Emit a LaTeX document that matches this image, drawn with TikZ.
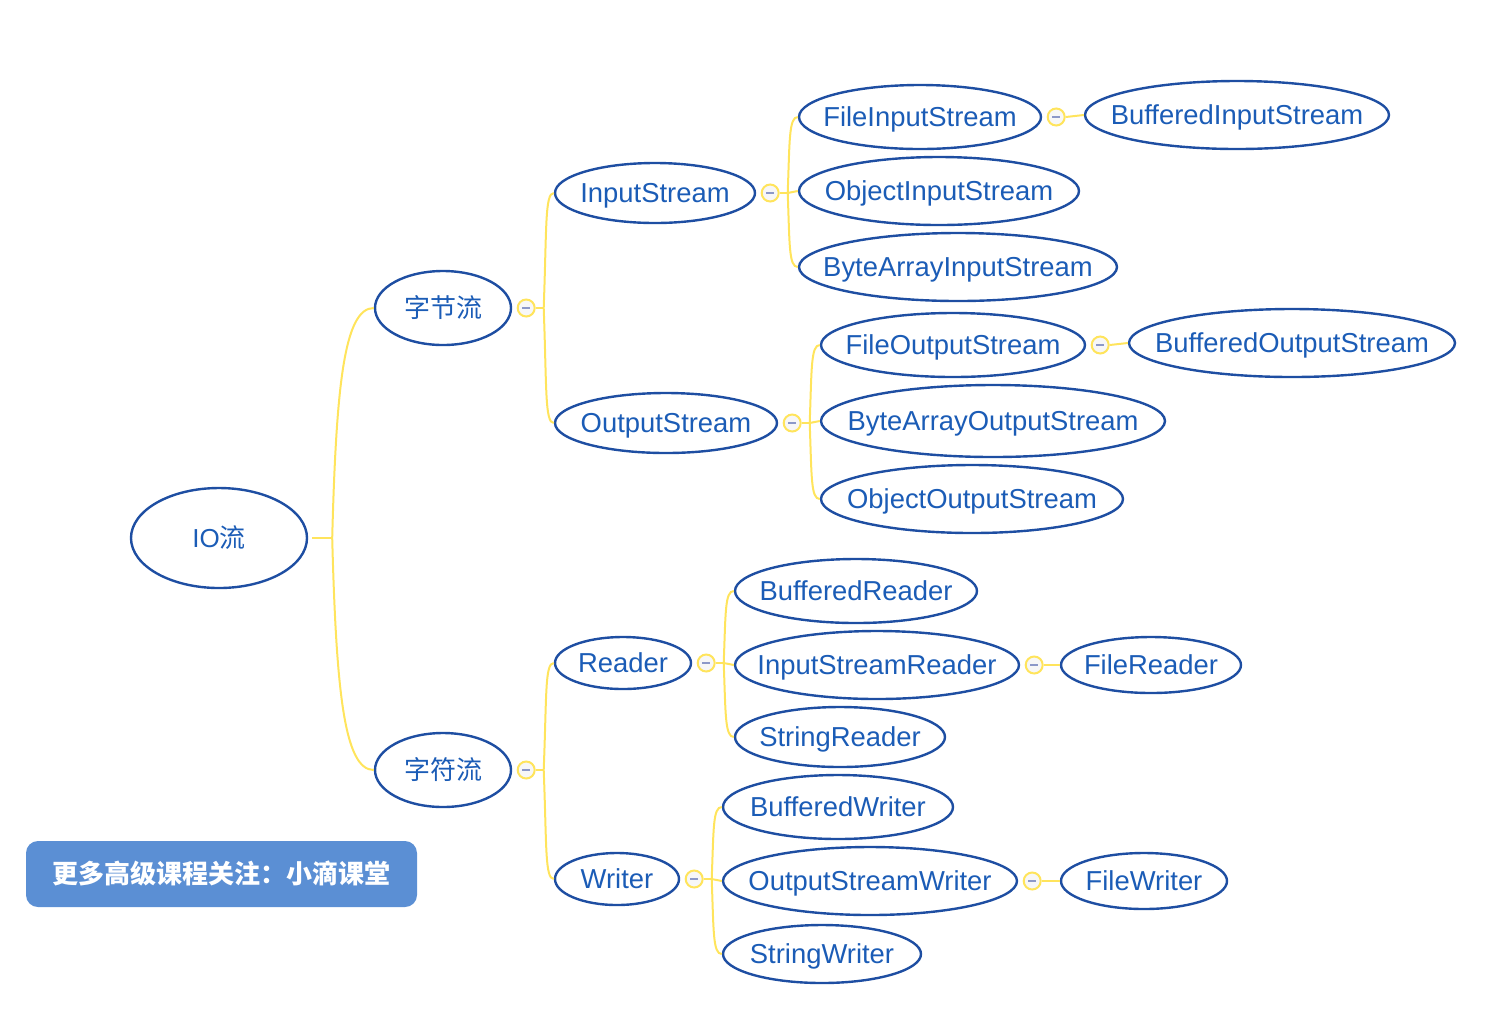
\documentclass[tikz,border=0pt]{standalone}
\usepackage{fontspec}
\setmainfont{Liberation Sans}
\newfontfamily\cjk{Noto Sans CJK SC}
\usetikzlibrary{shapes.geometric,calc}
\definecolor{nodeblue}{RGB}{30,78,162}
\definecolor{textblue}{RGB}{27,92,182}
\definecolor{branch}{RGB}{255,228,92}
\definecolor{minuscol}{RGB}{140,152,200}
\definecolor{bannerfill}{RGB}{91,143,212}
\tikzset{
  ov/.style={ellipse, draw=nodeblue, line width=1.2pt, text=textblue, inner sep=-60pt,
    text height=9.8pt, text depth=0pt,
    font=\fontsize{13.7pt}{16pt}\selectfont},
  cnode/.style={ov, font=\fontsize{13pt}{16pt}\selectfont\cjk},
  tog/.style={circle, draw=branch, fill=black!3, line width=1pt, minimum size=8.5pt, inner sep=0pt,
    path picture={\draw[minuscol, line width=1pt]
      ([xshift=-2.1pt]path picture bounding box.center) -- ([xshift=2.1pt]path picture bounding box.center);}},
  br/.style={draw=branch, line width=1pt},
  bannerbox/.style={rectangle, rounded corners=6pt, fill=bannerfill, text=white, inner sep=0pt,
    text height=9.6pt, text depth=0pt,
    font=\fontsize{13pt}{16pt}\selectfont\cjk\bfseries},
}
\begin{document}
\begin{tikzpicture}[x=0.5pt, y={(0pt,-0.5pt)}]
\useasboundingbox (0,0) rectangle (1504,1030);

% nodes
\node[cnode, minimum width=88pt, minimum height=50pt] (io) at (219,538) {\fontspec{Liberation Sans}IO\cjk 流};
\node[cnode, minimum width=68pt, minimum height=37pt] (zjl) at (443,308) {字节流};
\node[cnode, minimum width=68pt, minimum height=37pt] (zfl) at (443,770) {字符流};

\node[ov, minimum width=100pt, minimum height=30pt] (is) at (655,193) {InputStream};
\node[ov, minimum width=111pt, minimum height=30pt] (os) at (666,423) {OutputStream};

\node[ov, minimum width=121pt, minimum height=32pt] (fis) at (920,117) {FileInputStream};
\node[ov, minimum width=140pt, minimum height=34pt] (ois) at (939,191) {ObjectInputStream};
\node[ov, minimum width=159pt, minimum height=34pt] (bais) at (958,267) {ByteArrayInputStream};
\node[ov, minimum width=152pt, minimum height=34pt] (bis) at (1237,115) {BufferedInputStream};

\node[ov, minimum width=132pt, minimum height=32pt] (fos) at (953,345) {FileOutputStream};
\node[ov, minimum width=172pt, minimum height=36pt] (baos) at (993,421) {ByteArrayOutputStream};
\node[ov, minimum width=151pt, minimum height=34pt] (oos) at (972,499) {ObjectOutputStream};
\node[ov, minimum width=163pt, minimum height=34pt] (bos) at (1292,343) {BufferedOutputStream};

\node[ov, minimum width=68pt, minimum height=26pt] (rd) at (623,663) {Reader};
\node[ov, minimum width=62pt, minimum height=26pt] (wr) at (617,879) {Writer};

\node[ov, minimum width=121pt, minimum height=32pt] (brd) at (856,591) {BufferedReader};
\node[ov, minimum width=142pt, minimum height=34pt] (isr) at (877,665) {InputStreamReader};
\node[ov, minimum width=105pt, minimum height=30pt] (srd) at (840,737) {StringReader};
\node[ov, minimum width=90pt, minimum height=28pt] (frd) at (1151,665) {FileReader};

\node[ov, minimum width=115pt, minimum height=32pt] (bwr) at (838,807) {BufferedWriter};
\node[ov, minimum width=147pt, minimum height=34pt] (osw) at (870,881) {OutputStreamWriter};
\node[ov, minimum width=99pt, minimum height=29pt] (swr) at (822,954) {StringWriter};
\node[ov, minimum width=83pt, minimum height=28pt] (fwr) at (1144,881) {FileWriter};

% toggles
\node[tog] (tzjl) at ($(zjl.east)+(14,0)$) {};
\node[tog] (tzfl) at ($(zfl.east)+(14,0)$) {};
\node[tog] (tis) at ($(is.east)+(14,0)$) {};
\node[tog] (tos) at ($(os.east)+(14,0)$) {};
\node[tog] (tfis) at ($(fis.east)+(14,0)$) {};
\node[tog] (tfos) at ($(fos.east)+(14,0)$) {};
\node[tog] (trd) at ($(rd.east)+(14,0)$) {};
\node[tog] (twr) at ($(wr.east)+(14,0)$) {};
\node[tog] (tisr) at ($(isr.east)+(14,0)$) {};
\node[tog] (tosw) at ($(osw.east)+(14,0)$) {};

% hubs
\coordinate (h0) at ($(io.east)+(24,0)$);
\coordinate (hzjl) at ($(tzjl.east)+(8,0)$);
\coordinate (hzfl) at ($(tzfl.east)+(8,0)$);
\coordinate (his) at ($(tis.east)+(8,0)$);
\coordinate (hos) at ($(tos.east)+(8,0)$);
\coordinate (hrd) at ($(trd.east)+(8,0)$);
\coordinate (hwr) at ($(twr.east)+(8,0)$);

% connectors
\draw[br] ($(io.east)+(4,0)$) -- (h0);
\draw[br] (h0) .. controls +(4,-150) and +(-30,0) .. (zjl.west);
\draw[br] (h0) .. controls +(4,150) and +(-30,0) .. (zfl.west);

\draw[br] (tzjl.east) -- (hzjl);
\draw[br] (hzjl) .. controls +(3,-80) and +(-9,0) .. (is.west);
\draw[br] (hzjl) .. controls +(3,80) and +(-9,0) .. (os.west);

\draw[br] (tis.east) -- (his);
\draw[br] (his) .. controls +(2,-52) and +(-9,0) .. (fis.west);
\draw[br] (his) -- (ois.west);
\draw[br] (his) .. controls +(2,52) and +(-9,0) .. (bais.west);
\draw[br] (tfis.east) -- (bis.west);

\draw[br] (tos.east) -- (hos);
\draw[br] (hos) .. controls +(2,-54) and +(-9,0) .. (fos.west);
\draw[br] (hos) -- (baos.west);
\draw[br] (hos) .. controls +(2,54) and +(-9,0) .. (oos.west);
\draw[br] (tfos.east) -- (bos.west);

\draw[br] (tzfl.east) -- (hzfl);
\draw[br] (hzfl) .. controls +(3,-75) and +(-9,0) .. (rd.west);
\draw[br] (hzfl) .. controls +(3,75) and +(-9,0) .. (wr.west);

\draw[br] (trd.east) -- (hrd);
\draw[br] (hrd) .. controls +(2,-50) and +(-9,0) .. (brd.west);
\draw[br] (hrd) -- (isr.west);
\draw[br] (hrd) .. controls +(2,50) and +(-9,0) .. (srd.west);
\draw[br] (tisr.east) -- (frd.west);

\draw[br] (twr.east) -- (hwr);
\draw[br] (hwr) .. controls +(2,-50) and +(-9,0) .. (bwr.west);
\draw[br] (hwr) -- (osw.west);
\draw[br] (hwr) .. controls +(2,52) and +(-9,0) .. (swr.west);
\draw[br] (tosw.east) -- (fwr.west);

% banner
\node[bannerbox, minimum width=195.5pt, minimum height=33pt] (banner) at (221.5,874) {更多高级课程关注：小滴课堂};
\end{tikzpicture}
\end{document}
